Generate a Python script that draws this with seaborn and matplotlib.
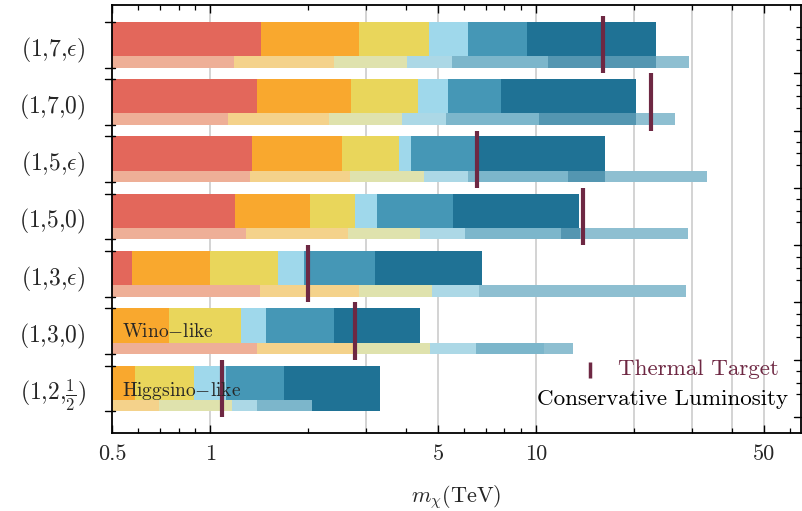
import numpy as np
import pandas as pd
import matplotlib
matplotlib.use("Agg")
import matplotlib.pyplot as plt
from matplotlib.ticker import NullFormatter
import seaborn as sns

# ---------------------------------------------------------------- data
models = [r"$(1{,}7{,}\epsilon)$", r"$(1{,}7{,}0)$", r"$(1{,}5{,}\epsilon)$", r"$(1{,}5{,}0)$",
          r"$(1{,}3{,}\epsilon)$", r"$(1{,}3{,}0)$", r"$(1{,}2{,}\frac{1}{2})$"]

# upper edge (TeV) of each reach band, nominal luminosity
reach_red = [1.436, 1.393, 1.341, 1.193, 0.577, 0.50, 0.50]
reach_orange = [2.86, 2.71, 2.53, 2.025, 1.00, 0.750, 0.587]
reach_yellow = [4.68, 4.33, 3.80, 2.78, 1.616, 1.241, 0.895]
reach_sky = [6.19, 5.37, 4.13, 3.26, 1.945, 1.488, 1.12]
reach_teal = [9.37, 7.83, 6.60, 5.57, 3.20, 2.40, 1.68]
reach_navy = [23.3, 20.26, 16.3, 13.55, 6.82, 4.40, 3.32]

# upper edge (TeV) of each reach band, conservative luminosity
cons_red = [1.18, 1.138, 1.326, 1.292, 1.419, 1.393, 0.50]
cons_orange = [2.40, 2.32, 2.68, 2.64, 2.86, 2.75, 0.696]
cons_yellow = [4.03, 3.88, 4.54, 4.41, 4.78, 4.73, 1.165]
cons_sky = [5.52, 5.29, 6.17, 6.06, 6.69, 6.56, 1.393]
cons_teal = [10.9, 10.2, 12.56, 11.96, 6.69, 10.58, 2.05]
cons_navy = [23.3, 20.26, 16.3, 13.6, 6.69, 10.58, 2.05]
cons_deep = [23.3, 20.26, 16.3, 13.6, 6.69, 10.58, 3.32]
cons_tail = [29.4, 26.6, 33.4, 29.2, 28.8, 12.96, 3.32]

# thermal-relic mass of each multiplet (TeV)
thermal = [16.0, 22.6, 6.58, 13.96, 1.99, 2.78, 1.09]

x_major = [0.5, 1, 5, 10, 50]
x_major_labels = ["0.5", "1", "5", "10", "50"]
x_minor = [0.6, 0.7, 0.8, 0.9, 2, 3, 4, 6, 7, 8, 9, 20, 30, 40, 60]
x_grid = [1, 3, 5, 10, 20, 30, 40, 50]

# in-plot annotations: (text, x in TeV, row, baseline offset inside row)
notes = [(r"Wino$-$like", 0.535, 5, 0.505),
         (r"Higgsino$-$like", 0.535, 6, 0.54)]

# ---------------------------------------------------------------- style
thick_layers = [
    (reach_red, "#e3675b"), (reach_orange, "#f9a82e"), (reach_yellow, "#e9d65b"),
    (reach_sky, "#9fd8eb"), (reach_teal, "#4597b6"), (reach_navy, "#1f7295"),
]
thin_layers = [
    (cons_red, "#eeaf97"), (cons_orange, "#f4d28b"), (cons_yellow, "#dfe2ad"),
    (cons_sky, "#acd8e6"), (cons_teal, "#7cb6cb"), (cons_navy, "#5496b1"),
    (cons_deep, "#1f7295"), (cons_tail, "#8ebfd1"),
]
maroon = "#6e2843"

sns.set_style("ticks")
plt.rcParams["font.family"] = ["cmr10", "DejaVu Serif"]
plt.rcParams["mathtext.fontset"] = "cm"
plt.rcParams["axes.unicode_minus"] = False
plt.rcParams["axes.formatter.use_mathtext"] = True

fig = plt.figure(figsize=(8.02, 5.11), dpi=100)
ax = fig.add_axes([0.1397, 0.1526, 0.8591, 0.8376])
ax.set_xscale("log")

n = len(models)
row_top = np.arange(n, dtype=float)
thick_h, thin_h = 0.6, 0.2
thick_pos = row_top + thick_h / 2
thin_pos = row_top + thick_h + thin_h / 2

for g in x_grid:
    ax.axvline(g, color="#c8c8c8", lw=1.1, zorder=0.5)


def draw_layers(layers, pos, height):
    # longest band first, shorter ones drawn over it
    for values, colour in reversed(layers):
        df = pd.DataFrame({"pos": pos, "mass": values})
        sns.barplot(data=df, x="mass", y="pos", orient="y", native_scale=True,
                    width=height, color=colour, saturation=1, linewidth=0,
                    errorbar=None, ax=ax, zorder=1)


draw_layers(thick_layers, thick_pos, thick_h)
draw_layers(thin_layers, thin_pos, thin_h)

ax.vlines(thermal, row_top - 0.1, row_top + 0.9, color=maroon, lw=3, zorder=3)

for text, xv, row, off in notes:
    ax.text(xv, row + off, text, fontsize=14, ha="left", va="baseline", zorder=4)

# ---------------------------------------------------------------- axes
ax.set_xlim(0.5, 65)
ax.set_ylim(7.178, -0.291)

ax.set_xticks(x_major, x_major_labels)
ax.set_xticks(x_minor, minor=True)
ax.xaxis.set_minor_formatter(NullFormatter())
ax.tick_params(axis="x", which="major", direction="in", length=6, width=1,
               top=True, bottom=True, labelsize=16, pad=8, color="black")
ax.tick_params(axis="x", which="minor", direction="in", length=3.5, width=0.9,
               top=True, bottom=True, color="black")

ax.set_yticks(row_top + 0.42, models)
ax.set_yticks(np.concatenate([row_top + 0.1, row_top + 0.3, row_top + 0.5]), minor=True)
ax.tick_params(axis="y", which="major", length=0, labelsize=17, pad=19)
ax.tick_params(axis="y", which="minor", direction="in", length=3.5, width=0.9,
               left=True, right=True, color="black")
ax.set_ylabel("")

# longer frame ticks at the row boundaries
ytf = ax.get_yaxis_transform()
for y in np.concatenate([row_top, row_top + 0.8]):
    ax.plot([-0.010, 0.005], [y, y], color="black", lw=1, transform=ytf,
            clip_on=False, zorder=5)
for y in row_top + 0.9:
    ax.plot([0.99, 1.0], [y, y], color="black", lw=1, transform=ytf,
            clip_on=False, zorder=5)

for sp in ax.spines.values():
    sp.set_visible(True)
    sp.set_color("black")
    sp.set_linewidth(1.3)

ax.set_xlabel(r"$m_\chi$(TeV)", fontsize=16, labelpad=14)

# key
ax.plot([0.6938, 0.6938], [0.128, 0.166], color=maroon, lw=2.5,
        transform=ax.transAxes, solid_capstyle="butt")
ax.text(0.734, 0.149, "Thermal Target", color=maroon, fontsize=16.6,
        ha="left", va="center", transform=ax.transAxes)
ax.text(0.617, 0.080, "Conservative Luminosity", color="black", fontsize=16.6,
        ha="left", va="center", transform=ax.transAxes)

fig.savefig("out.png", dpi=100, facecolor="white")
